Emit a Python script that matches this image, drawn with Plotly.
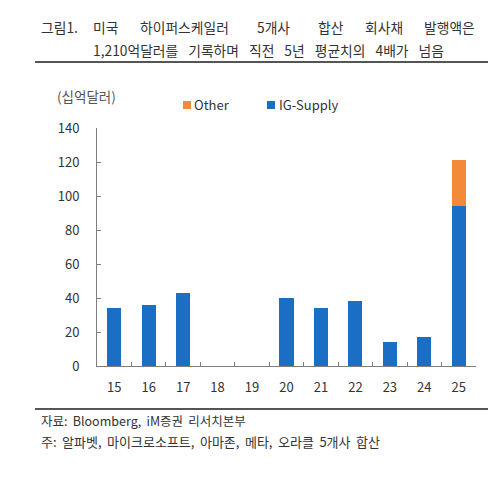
import plotly.graph_objects as go

years = ["15", "16", "17", "18", "19", "20", "21", "22", "23", "24", "25"]
ig_supply = [34, 36, 43, None, None, 40, 34, 38, 14, 17, 94]
other = [None, None, None, None, None, None, None, None, None, None, 27]
y_ticks = [0, 20, 40, 60, 80, 100, 120, 140]

BLUE = "#1A6FC4"
ORANGE = "#F28A3A"
FONT = "Noto Sans CJK KR"

W, H = 500, 478
L, R, T, B = 97, 24, 128, 112
PW = W - L - R
PH = H - T - B


def px(x):
    return (x - L) / PW


def py(y):
    return (H - B - y) / PH


fig = go.Figure()
fig.add_bar(x=years, y=ig_supply, name="IG-Supply", marker_color=BLUE,
            marker_line_width=0, showlegend=False)
fig.add_bar(x=years, y=other, name="Other", marker_color=ORANGE,
            marker_line_width=0, showlegend=False)

fig.update_layout(
    width=W, height=H, barmode="stack", bargap=0.59,
    margin=dict(l=L, r=R, t=T, b=B),
    paper_bgcolor="white", plot_bgcolor="white",
    font=dict(family=FONT, size=13, color="#333333"),
)
fig.update_xaxes(
    type="category", showline=True, linecolor="#7f7f7f", linewidth=1,
    ticks="inside", tickson="boundaries", ticklen=4, tickcolor="#7f7f7f",
    showgrid=False, tickfont=dict(size=13, color="#333333"),
    ticklabelstandoff=9,
)
fig.update_yaxes(
    range=[0, 140], tickvals=y_ticks, showline=True, linecolor="#7f7f7f",
    linewidth=1, ticks="inside", ticklen=4, tickcolor="#7f7f7f",
    showgrid=False, zeroline=False, tickfont=dict(size=13, color="#333333"),
    ticklabelstandoff=14,
)

anns = []


def word(text, x, y, size, color="#333333"):
    anns.append(dict(text=text, x=px(x), y=py(y), xref="paper", yref="paper",
                     xanchor="left", yanchor="middle", showarrow=False,
                     borderpad=0, borderwidth=0,
                     font=dict(size=size, color=color)))


# Title line 1 (justified words)
for w, x in [("그림1.", 41), ("미국", 93), ("하이퍼스케일러", 140), ("5개사", 257),
             ("합산", 318), ("회사채", 365), ("발행액은", 424)]:
    word(w, x, 27, 13.8)
# Title line 2 (slightly wider word spacing)
word("1,210억달러를 기록하며 직전 5년 평균치의 4배가 넘음".replace(" ", " \u2005\u2005"),
     93, 50, 13.8)

word("(십억달러)", 57, 96, 13.5, "#555555")
# legend
word("Other", 194, 105, 13)
word("IG-Supply", 279, 105, 13)
# footer
word("자료: Bloomberg, iM증권 리서치본부".replace(" ", " \u2009"), 41, 420, 12.5)
word("주: 알파벳, 마이크로소프트, 아마존, 메타, 오라클 5개사 합산".replace(" ", " \u2009"),
     41, 441, 13)
fig.update_layout(annotations=anns)

shapes = [
    dict(type="line", xref="paper", yref="paper", x0=px(35), x1=px(488),
         y0=py(62), y1=py(62), line=dict(color="#555555", width=2)),
    dict(type="line", xref="paper", yref="paper", x0=px(35), x1=px(488),
         y0=py(409), y1=py(409), line=dict(color="#555555", width=2)),
    dict(type="rect", xref="paper", yref="paper", x0=px(183), x1=px(191),
         y0=py(101), y1=py(109), fillcolor=ORANGE, line_width=0),
    dict(type="rect", xref="paper", yref="paper", x0=px(267), x1=px(275),
         y0=py(101), y1=py(109), fillcolor=BLUE, line_width=0),
]
fig.update_layout(shapes=shapes)

fig.write_html("out.html")
